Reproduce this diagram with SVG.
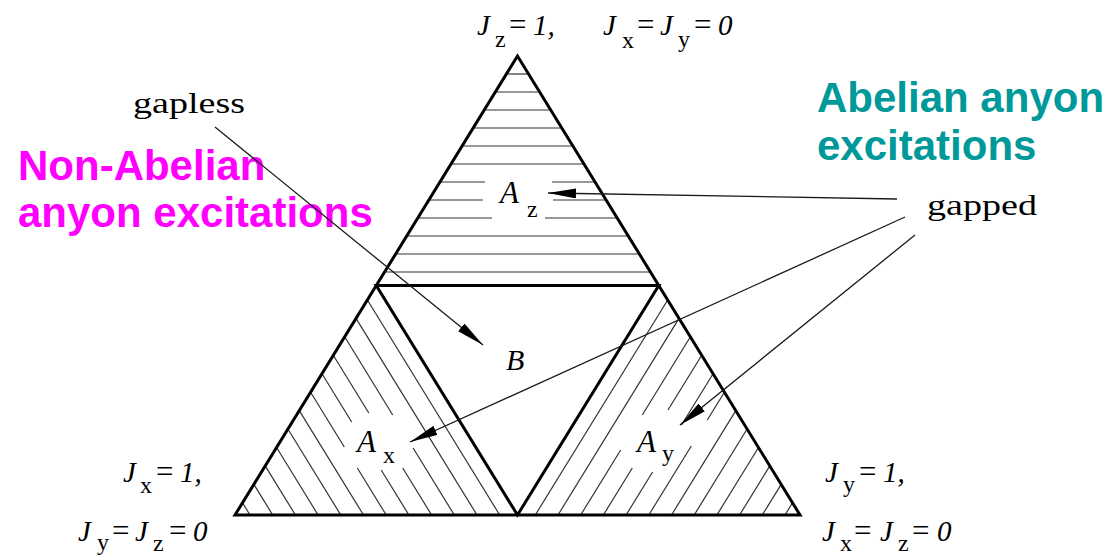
<svg xmlns="http://www.w3.org/2000/svg" width="1119" height="557" viewBox="0 0 1119 557">
<style>
.bg{fill:#fff}
.hatch line{stroke:#333;stroke-width:1.2}
.edge{fill:none;stroke:#000;stroke-width:3;stroke-linejoin:miter}
.m{font-family:"Liberation Serif","Times New Roman",serif;font-style:italic;font-size:29px;fill:#000}
.s{font-style:normal;font-size:24px}
.eq{font-style:normal;font-size:31px}
.lbl{font-family:"Liberation Serif","Times New Roman",serif;font-size:30px;fill:#000}
.big{font-family:"Liberation Sans",Arial,sans-serif;font-weight:bold;font-size:42px}
.conn line{stroke:#1a1a1a;stroke-width:1.3}
</style>
<defs>
<marker id="ah" viewBox="0 0 28 10" refX="28" refY="5" markerWidth="28" markerHeight="10" markerUnits="userSpaceOnUse" orient="auto">
<path d="M0,0 L28,5 L0,10 z" fill="#000"/>
</marker>
</defs>
<rect class="bg" width="1119" height="557"/>

<g id="region-Az" class="hatch">
<line x1="506.4" y1="74" x2="528.6" y2="74"/>
<line x1="495.3" y1="92" x2="539.7" y2="92"/>
<line x1="484.3" y1="110" x2="550.7" y2="110"/>
<line x1="473.2" y1="128" x2="561.8" y2="128"/>
<line x1="462.1" y1="146" x2="572.9" y2="146"/>
<line x1="451" y1="164" x2="584" y2="164"/>
<line x1="439.9" y1="182" x2="485" y2="182"/><line x1="552" y1="182" x2="595.1" y2="182"/>
<line x1="428.9" y1="200" x2="483" y2="200"/><line x1="553" y1="200" x2="606.1" y2="200"/>
<line x1="417.8" y1="218" x2="492" y2="218"/><line x1="545" y1="218" x2="617.2" y2="218"/>
<line x1="406.7" y1="236" x2="628.3" y2="236"/>
<line x1="395.6" y1="254" x2="639.4" y2="254"/>
<line x1="384.6" y1="272" x2="650.4" y2="272"/>
<text class="lbl" x="500" y="203"><tspan font-style="italic" font-size="31">A</tspan><tspan x="527" y="217" font-size="24">z</tspan></text>
</g>

<g id="region-Ax" class="hatch">
<line x1="250" y1="515" x2="242.5" y2="502.8"/>
<line x1="272.7" y1="515" x2="253.9" y2="484.4"/>
<line x1="295.4" y1="515" x2="265.2" y2="465.9"/>
<line x1="318.1" y1="515" x2="276.6" y2="447.5"/>
<line x1="340.8" y1="515" x2="287.9" y2="429"/>
<line x1="363.5" y1="515" x2="299.3" y2="410.6"/>
<line x1="310.6" y1="392.2" x2="344.3" y2="447"/><line x1="357.3" y1="468" x2="386.2" y2="515"/>
<line x1="322" y1="373.7" x2="351.7" y2="422"/><line x1="381.2" y1="470" x2="408.9" y2="515"/>
<line x1="333.3" y1="355.3" x2="368.8" y2="413"/><line x1="402.7" y1="468" x2="431.6" y2="515"/>
<line x1="344.7" y1="336.8" x2="392.7" y2="415"/><line x1="413.1" y1="448" x2="454.3" y2="515"/>
<line x1="477" y1="515" x2="356" y2="318.4"/>
<line x1="499.7" y1="515" x2="367.4" y2="300"/>
<text class="lbl" x="357" y="452"><tspan font-style="italic" font-size="31">A</tspan><tspan x="383" y="463" font-size="24">x</tspan></text>
</g>

<g id="region-Ay" class="hatch">
<line x1="785" y1="515" x2="792.5" y2="502.8"/>
<line x1="762.3" y1="515" x2="781.2" y2="484.4"/>
<line x1="739.6" y1="515" x2="769.8" y2="465.9"/>
<line x1="716.9" y1="515" x2="758.5" y2="447.5"/>
<line x1="694.2" y1="515" x2="747.1" y2="429"/>
<line x1="671.5" y1="515" x2="735.8" y2="410.6"/>
<line x1="724.4" y1="392.2" x2="707.3" y2="420"/><line x1="691.3" y1="446" x2="648.8" y2="515"/>
<line x1="713.1" y1="373.7" x2="681.5" y2="425"/><line x1="652.6" y1="472" x2="626.1" y2="515"/>
<line x1="701.7" y1="355.3" x2="668" y2="410"/><line x1="632.3" y1="468" x2="603.4" y2="515"/>
<line x1="690.4" y1="336.8" x2="642.3" y2="415"/><line x1="620.7" y1="450" x2="580.7" y2="515"/>
<line x1="558" y1="515" x2="679" y2="318.4"/>
<line x1="535.3" y1="515" x2="667.7" y2="300"/>
<text class="lbl" x="637" y="452"><tspan font-style="italic" font-size="31">A</tspan><tspan x="662" y="461" font-size="24">y</tspan></text>
</g>

<g id="region-B">
<text class="lbl" x="506" y="370" font-style="italic" font-size="31">B</text>
</g>

<g id="outline">
<polygon class="edge" points="517.5,56 235,515 800,515"/>
<polygon class="edge" points="376.25,285.5 658.75,285.5 517.5,515"/>
</g>

<g id="label-top">
<text class="m" y="35"><tspan x="477">J</tspan><tspan class="s" x="495" y="47">z</tspan><tspan class="eq" x="509" y="35">=</tspan><tspan x="533">1,</tspan><tspan x="603">J</tspan><tspan class="s" x="622" y="48">x</tspan><tspan class="eq" x="637" y="35">=</tspan><tspan x="660">J</tspan><tspan class="s" x="678" y="47">y</tspan><tspan class="eq" x="694" y="35">=</tspan><tspan x="718">0</tspan></text>
</g>

<g id="label-left">
<text class="m" y="482"><tspan x="123">J</tspan><tspan class="s" x="140" y="493">x</tspan><tspan class="eq" x="156" y="482">=</tspan><tspan x="180">1,</tspan></text>
<text class="m" y="541"><tspan x="78">J</tspan><tspan class="s" x="97" y="550">y</tspan><tspan class="eq" x="112" y="541">=</tspan><tspan x="135">J</tspan><tspan class="s" x="153" y="551">z</tspan><tspan class="eq" x="169" y="541">=</tspan><tspan x="193">0</tspan></text>
</g>

<g id="label-right">
<text class="m" y="482"><tspan x="825">J</tspan><tspan class="s" x="843" y="492">y</tspan><tspan class="eq" x="859" y="482">=</tspan><tspan x="883">1,</tspan></text>
<text class="m" y="541"><tspan x="822">J</tspan><tspan class="s" x="840" y="551">x</tspan><tspan class="eq" x="854" y="541">=</tspan><tspan x="880">J</tspan><tspan class="s" x="898" y="551">z</tspan><tspan class="eq" x="912" y="541">=</tspan><tspan x="937">0</tspan></text>
</g>

<g id="gapless">
<text class="lbl" x="133" y="113" font-size="31" textLength="112" lengthAdjust="spacingAndGlyphs">gapless</text>
</g>
<g id="gapped">
<text class="lbl" x="927" y="215" font-size="31" textLength="110" lengthAdjust="spacingAndGlyphs">gapped</text>
</g>

<g id="non-abelian">
<text class="big" fill="#ff00ff" x="18" y="180">Non-Abelian</text>
<text class="big" fill="#ff00ff" x="18" y="227">anyon excitations</text>
</g>
<g id="abelian">
<text class="big" fill="#009999" x="817" y="112">Abelian anyon</text>
<text class="big" fill="#009999" x="817" y="160">excitations</text>
</g>

<g id="connectors" class="conn">
<line x1="215" y1="127" x2="483" y2="345" marker-end="url(#ah)"/>
<line x1="897" y1="199" x2="548" y2="193" marker-end="url(#ah)"/>
<line x1="905" y1="217" x2="410" y2="442" marker-end="url(#ah)"/>
<line x1="915" y1="235" x2="680" y2="425" marker-end="url(#ah)"/>
</g>
</svg>
